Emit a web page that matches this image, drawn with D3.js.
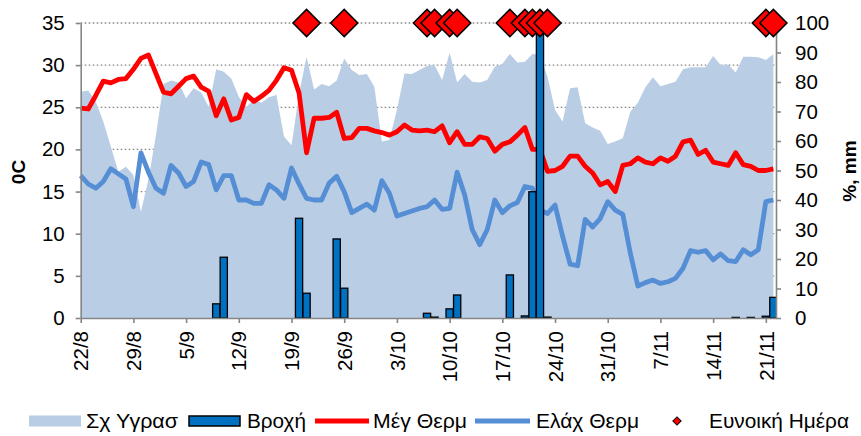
<!DOCTYPE html>
<html lang="el">
<head>
    <meta charset="UTF-8">
    <title>Θερμοκρασία, υγρασία, βροχή</title>
    <script src="https://d3js.org/d3.v7.min.js"></script>
    <style>
        body { margin: 0; background: #fff; }
        svg { display: block; }
        text {
            font-family: "Liberation Sans", Arial, sans-serif;
            fill: #000;
        }
        .axis text { font-size: 20.5px; }
        .axis path, .axis line { stroke: #868686; stroke-width: 1.6px; }
        .grid line { stroke: #868686; stroke-width: 1.3px; stroke-dasharray: 1.6,2.4; }
        .title { font-size: 19px; font-weight: bold; }
        .legend text { font-size: 20px; }
    </style>
</head>
<body>
    <script>
        const width = 861;
        const height = 436;

        // first day of the series, one value per day after it
        const startDay = "2013-08-22";

        // Σχ Υγρασ (%), right axis
        const humidity = [
            76.7, 77.1, 73.3, 66.6, 58.1, 49.6, 51.3, 48.5, 36.0, 47.0,
            62.0, 79.3, 80.5, 79.8, 74.5, 77.9, 76.4, 71.6, 84.3, 83.5,
            81.2, 75.0, 71.6, 73.9, 73.0, 74.8, 75.6, 61.5, 58.6, 76.0,
            88.6, 77.5, 79.3, 78.6, 80.5, 88.0, 84.1, 82.4, 82.7, 78.4,
            59.8, 60.3, 70.5, 82.9, 82.7, 84.1, 85.4, 85.8, 80.7, 89.9,
            79.8, 82.7, 80.1, 79.8, 80.7, 85.2, 86.1, 89.5, 86.6, 86.9,
            89.5, 89.2, 81.8, 70.5, 66.6, 77.9, 78.2, 66.0, 64.6, 63.5,
            59.0, 59.8, 60.9, 69.9, 73.0, 78.2, 81.6, 78.6, 79.3, 80.1,
            84.3, 85.0, 85.0, 85.0, 88.8, 85.8, 85.9, 83.2, 88.6, 88.6,
            88.4, 87.5, 89.4
        ];

        // Μέγ Θερμ (0C), left axis
        const maxTemp = [
            24.9, 24.8, 26.4, 28.1, 27.9, 28.3, 28.4, 29.5, 30.8, 31.2,
            29.0, 26.8, 26.6, 27.5, 28.4, 28.7, 27.4, 26.9, 24.0, 26.0,
            23.5, 23.8, 26.5, 25.7, 26.3, 27.0, 28.2, 29.7, 29.4, 26.7,
            19.6, 23.7, 23.7, 23.8, 24.4, 21.3, 21.4, 22.5, 22.5, 22.2,
            22.0, 21.7, 22.1, 22.9, 22.3, 22.2, 22.3, 22.1, 22.8, 20.8,
            22.1, 20.6, 20.6, 21.5, 21.3, 19.8, 20.6, 20.9, 21.7, 22.6,
            20.0, 20.0, 17.4, 17.5, 18.0, 19.2, 19.2, 18.0, 17.2, 15.8,
            16.2, 15.0, 18.1, 18.3, 19.0, 18.5, 18.3, 19.0, 18.6, 19.2,
            20.9, 21.1, 19.4, 19.9, 18.5, 18.3, 18.1, 19.6, 18.2, 18.0,
            17.5, 17.5, 17.7
        ];

        // Ελάχ Θερμ (0C), left axis
        const minTemp = [
            16.9, 15.9, 15.4, 16.2, 17.7, 17.1, 16.5, 13.2, 19.6, 17.3,
            15.4, 14.8, 18.1, 17.2, 15.6, 16.2, 18.5, 18.2, 15.2, 16.9,
            16.9, 14.0, 14.0, 13.6, 13.6, 15.8, 15.2, 14.2, 17.8, 15.9,
            14.2, 14.0, 14.0, 16.0, 16.8, 15.0, 12.5, 13.0, 13.5, 12.8,
            16.3, 14.8, 12.1, 12.4, 12.7, 13.0, 13.2, 14.0, 12.9, 13.0,
            17.3, 14.6, 10.5, 8.7, 10.5, 14.0, 12.5, 13.3, 13.7, 15.6,
            15.4, 12.8, 12.4, 13.4, 9.7, 6.4, 6.2, 11.7, 10.8, 11.8,
            13.8, 12.8, 12.3, 7.7, 3.8, 4.2, 4.5, 4.1, 4.3, 4.7,
            5.9, 8.0, 7.8, 8.0, 6.9, 7.6, 6.8, 6.7, 8.1, 7.5,
            8.1, 13.8, 14.0
        ];

        // Βροχή (mm), right axis - only the days with rain
        const rainDays = ["9/9", "10/9", "20/9", "21/9", "25/9", "26/9", "7/10", "8/10", "10/10", "11/10",
                          "18/10", "20/10", "21/10", "22/10", "23/10", "17/11", "19/11", "21/11", "22/11"];
        const rainMm   = [4.8, 20.6, 33.8, 8.4, 26.8, 10.1, 1.6, 0.3, 3.1, 7.8,
                          14.6, 0.7, 42.8, 112, 0.3, 0.2, 0.2, 0.6, 7.0];

        // Ευνοική Ημέρα, drawn at 100 on the right axis
        const goodDays = ["21/9", "26/9", "7/10", "8/10", "10/10", "11/10", "18/10",
                          "20/10", "21/10", "22/10", "23/10", "21/11", "22/11"];
        const goodLevel = 100;

        const xTickLabels = ["22/8", "29/8", "5/9", "12/9", "19/9", "26/9", "3/10",
                             "10/10", "17/10", "24/10", "31/10", "7/11", "14/11", "21/11"];

        const leftTicks = [0, 5, 10, 15, 20, 25, 30, 35];
        const rightTicks = [0, 10, 20, 30, 40, 50, 60, 70, 80, 90, 100];

        const colors = {
            humidity: "#B9CDE5",
            rain: "#0070C0",
            maxTemp: "#FF0000",
            minTemp: "#558ED5",
            good: "#FF0000"
        };

        // ----- helpers -----
        const start = new Date(startDay + "T00:00:00Z");
        const year = start.getUTCFullYear();
        const dayMs = 864e5;
        const dayOf = i => new Date(start.getTime() + i * dayMs);
        const parseDM = s => {
            const [d, mo] = s.split("/").map(Number);
            return new Date(Date.UTC(year, mo - 1, d));
        };

        const plot = { left: 80.7, right: 776, top: 23, bottom: 318 };

        const x = d3.scaleUtc()
            .domain([start, new Date(start.getTime() + 92.35 * dayMs)])
            .range([plot.left, plot.right]);
        const yL = d3.scaleLinear().domain([0, 35]).range([plot.bottom, plot.top]);
        const yR = d3.scaleLinear().domain([0, 100]).range([plot.bottom, plot.top]);

        const svg = d3.select("body").append("svg")
            .attr("width", width)
            .attr("height", height);

        svg.append("defs").append("clipPath")
            .attr("id", "plotClip")
            .append("rect")
            .attr("x", plot.left)
            .attr("y", plot.top)
            .attr("width", plot.right - plot.left)
            .attr("height", plot.bottom - plot.top);

        // dotted gridlines (left axis)
        svg.append("g")
            .attr("class", "grid")
            .selectAll("line")
            .data(leftTicks.filter(t => t > 0))
            .enter().append("line")
            .attr("x1", plot.left)
            .attr("x2", plot.right)
            .attr("y1", d => yL(d))
            .attr("y2", d => yL(d));

        // humidity area
        const humData = humidity.map((v, i) => ({ date: dayOf(i), v }));
        svg.append("path")
            .datum(humData)
            .attr("fill", colors.humidity)
            .attr("d", d3.area()
                .x(d => x(d.date))
                .y0(yR(0))
                .y1(d => yR(d.v)));

        // temperature lines
        const lineL = d3.line().x(d => x(d.date)).y(d => yL(d.v));
        [[maxTemp, colors.maxTemp], [minTemp, colors.minTemp]].forEach(([arr, c]) => {
            svg.append("path")
                .datum(arr.map((v, i) => ({ date: dayOf(i), v })))
                .attr("fill", "none")
                .attr("stroke", c)
                .attr("stroke-width", 4.8)
                .attr("stroke-linejoin", "round")
                .attr("stroke-linecap", "butt")
                .attr("d", lineL);
        });

        // rain bars
        const barW = (x(dayOf(1)) - x(dayOf(0))) * 0.96;
        svg.append("g")
            .attr("clip-path", "url(#plotClip)")
            .selectAll("rect")
            .data(rainDays.map((d, i) => ({ date: parseDM(d), v: rainMm[i] })))
            .enter().append("rect")
            .attr("x", d => x(d.date) - barW / 2)
            .attr("width", barW)
            .attr("y", d => yR(d.v))
            .attr("height", d => yR(0) - yR(d.v))
            .attr("fill", colors.rain)
            .attr("stroke", "#000")
            .attr("stroke-width", 1.3);

        // axes
        const axL = svg.append("g")
            .attr("class", "axis")
            .attr("transform", `translate(${plot.left},0)`)
            .call(d3.axisLeft(yL).tickValues(leftTicks).tickSize(5).tickSizeOuter(0).tickPadding(11));

        const axR = svg.append("g")
            .attr("class", "axis")
            .attr("transform", `translate(${plot.right},0)`)
            .call(d3.axisRight(yR).tickValues(rightTicks).tickSize(5).tickSizeOuter(0).tickPadding(14));

        const axB = svg.append("g")
            .attr("class", "axis")
            .attr("transform", `translate(0,${plot.bottom})`)
            .call(d3.axisBottom(x)
                .tickValues(xTickLabels.map(parseDM))
                .tickFormat(d3.utcFormat("%-d/%-m"))
                .tickSize(5)
                .tickSizeOuter(0));
        axB.selectAll("text")
            .attr("transform", "rotate(-90)")
            .attr("x", -13)
            .attr("y", 0)
            .attr("dy", "0.35em")
            .attr("text-anchor", "end");
        [axL, axR, axB].forEach(a => a.selectAll("text").attr("fill", "#000"));

        // favourable days
        const diamond = d3.symbol().type(d3.symbolSquare).size(370);
        svg.append("g")
            .selectAll("path")
            .data(goodDays.map(parseDM))
            .enter().append("path")
            .attr("d", diamond)
            .attr("transform", d => `translate(${x(d)},${yR(goodLevel)}) rotate(45)`)
            .attr("fill", colors.good)
            .attr("stroke", "#000")
            .attr("stroke-width", 1.5);

        // axis titles
        svg.append("text")
            .attr("class", "title")
            .attr("transform", "translate(25,172) rotate(-90)")
            .attr("text-anchor", "middle")
            .text("0C");
        svg.append("text")
            .attr("class", "title")
            .attr("transform", "translate(856,171) rotate(-90)")
            .attr("text-anchor", "middle")
            .text("%, mm");

        // legend
        const legend = svg.append("g").attr("class", "legend");
        const ly = 421;
        legend.append("rect")
            .attr("x", 29).attr("y", ly - 5.5).attr("width", 52).attr("height", 11)
            .attr("fill", colors.humidity);
        legend.append("rect")
            .attr("x", 189).attr("y", ly - 5).attr("width", 51).attr("height", 10)
            .attr("fill", colors.rain).attr("stroke", "#000").attr("stroke-width", 1.5);
        legend.append("line")
            .attr("x1", 315).attr("x2", 369).attr("y1", ly).attr("y2", ly)
            .attr("stroke", colors.maxTemp).attr("stroke-width", 4.8);
        legend.append("line")
            .attr("x1", 475).attr("x2", 530).attr("y1", ly).attr("y2", ly)
            .attr("stroke", colors.minTemp).attr("stroke-width", 4.8);
        legend.append("path")
            .attr("d", d3.symbol().type(d3.symbolSquare).size(34))
            .attr("transform", `translate(677,${ly}) rotate(45)`)
            .attr("fill", colors.good).attr("stroke", "#000").attr("stroke-width", 1);

        const legendText = [
            ["Σχ Υγρασ", 86, 92],
            ["Βροχή", 247, 59],
            ["Μέγ Θερμ", 373, 94],
            ["Ελάχ Θερμ", 536, 103],
            ["Ευνοική Ημέρα", 709, 140]
        ];
        legend.selectAll("text.lg")
            .data(legendText)
            .enter().append("text")
            .attr("class", "lg")
            .attr("x", d => d[1])
            .attr("y", ly)
            .attr("dy", "0.35em")
            .attr("textLength", d => d[2])
            .attr("lengthAdjust", "spacingAndGlyphs")
            .text(d => d[0]);
    </script>
</body>
</html>
